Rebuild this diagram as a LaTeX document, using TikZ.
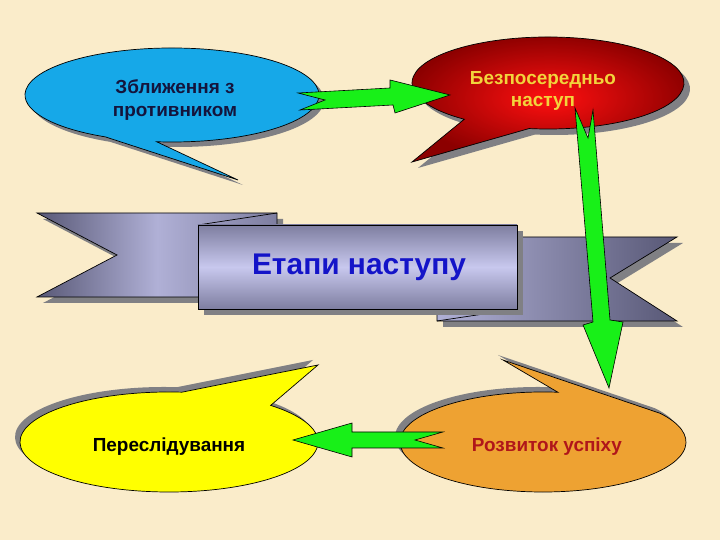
\documentclass[tikz,border=0pt]{standalone}
\usepackage{fontspec}
\setmainfont{Liberation Sans}
\definecolor{bgc}{RGB}{250,236,202}
\definecolor{shd}{RGB}{128,128,132}
\definecolor{bluef}{RGB}{22,168,232}
\definecolor{yelf}{RGB}{255,255,0}
\definecolor{oraf}{RGB}{238,162,50}
\definecolor{redin}{RGB}{255,16,16}
\definecolor{redout}{RGB}{140,0,0}
\definecolor{grn}{RGB}{24,240,24}
\definecolor{bdark}{RGB}{88,88,118}
\definecolor{blight}{RGB}{176,176,214}
\definecolor{bmid}{RGB}{126,126,160}
\definecolor{bpale}{RGB}{200,200,238}
\definecolor{navyt}{RGB}{20,20,60}
\definecolor{goldt}{RGB}{242,212,60}
\definecolor{redt}{RGB}{176,22,26}
\definecolor{bluet}{RGB}{20,20,200}
\tikzset{
  outl/.style={draw=black,line width=0.7bp},
  garrow/.style={fill=grn,draw=black,line width=0.6bp,line join=miter},
  lbl/.style={font=\fontsize{19}{23}\selectfont\bfseries,align=center,inner sep=0pt},
}
\begin{document}
\begin{tikzpicture}[x=1bp,y=1bp]
\useasboundingbox (0,0) rectangle (720,540);
\fill[bgc] (0,0) rectangle (720,540);

% ---------- banner ----------
% shadows
\fill[shd] (43,321) -- (283,321) -- (283,237) -- (43,237) -- (123,279) -- cycle;
\fill[shd] (443,297) -- (683,297) -- (616,256) -- (683,213) -- (443,213) -- cycle;
% left piece
\shade[left color=bdark,right color=bmid,middle color=blight] (37,327) -- (277,327) -- (277,243) -- (37,243) -- (117,285) -- cycle;
\draw[outl] (198,243) -- (37,243) -- (117,285) -- (37,327) -- (277,327) -- (277,315);
\draw[outl] (198,315) -- (277,327);
% right piece
\shade[left color=blight,right color=bdark] (437,303) -- (677,303) -- (610,262) -- (677,219) -- (437,219) -- cycle;
\draw[outl] (517,303) -- (677,303) -- (610,262) -- (677,219) -- (437,219) -- (437,231);
\draw[outl] (437,219) -- (517,231);
% centre
\fill[shd] (204,309) rectangle (523,225);
\shade[top color=bmid,bottom color=bmid,middle color=bpale] (198,315) rectangle (517,231);
\draw[outl] (198,315) rectangle (517,231);
\node[font=\fontsize{30}{34}\selectfont\bfseries,text=bluet] (title) at (359,273) {Етапи наступу};

% ---------- blue callout ----------
\fill[shd] ({177+147*cos(264)},{440+47*sin(264)}) arc[start angle=264,end angle=603,x radius=147bp,y radius=47bp] -- (243,355) -- cycle;
\fill[bluef] ({172+147*cos(264)},{445+47*sin(264)}) arc[start angle=264,end angle=603,x radius=147bp,y radius=47bp] -- (238,360) -- cycle;
\draw[outl] ({172+147*cos(264)},{445+47*sin(264)}) arc[start angle=264,end angle=603,x radius=147bp,y radius=47bp] -- (238,360) -- cycle;

% ---------- red callout ----------
\fill[shd] ({554+136*cos(262)},{451+46*sin(262)}) arc[start angle=262,end angle=592,x radius=136bp,y radius=46bp] -- (418,372) -- cycle;
\shade[inner color=redin,outer color=redout] ({548+136*cos(262)},{457+46*sin(262)}) arc[start angle=262,end angle=592,x radius=136bp,y radius=46bp] -- (412,378) -- cycle;
\draw[outl] ({548+136*cos(262)},{457+46*sin(262)}) arc[start angle=262,end angle=592,x radius=136bp,y radius=46bp] -- (412,378) -- cycle;

% ---------- yellow callout ----------
\fill[shd] ({164+149*cos(85)},{103+50*sin(85)}) arc[start angle=85,end angle=407,x radius=149bp,y radius=50bp] -- (313,180) -- cycle;
\fill[yelf] ({169+149*cos(85)},{98+50*sin(85)}) arc[start angle=85,end angle=407,x radius=149bp,y radius=50bp] -- (318,175) -- cycle;
\draw[outl] ({169+149*cos(85)},{98+50*sin(85)}) arc[start angle=85,end angle=407,x radius=149bp,y radius=50bp] -- (318,175) -- cycle;

% ---------- orange callout ----------
\fill[shd] ({538+143*cos(84)},{103+50*sin(84)}) arc[start angle=84,end angle=395,x radius=143bp,y radius=50bp] -- (498,185) -- cycle;
\fill[oraf] ({543+143*cos(84)},{98+50*sin(84)}) arc[start angle=84,end angle=395,x radius=143bp,y radius=50bp] -- (503,180) -- cycle;
\draw[outl] ({543+143*cos(84)},{98+50*sin(84)}) arc[start angle=84,end angle=395,x radius=143bp,y radius=50bp] -- (503,180) -- cycle;

% ---------- green block arrows ----------
\draw[garrow] (298,447) -- (390,452) -- (390,460) -- (450,445) -- (395,427) -- (393,435) -- (300,430) -- (325,440) -- cycle;
\draw[garrow] (575,432) -- (588,402) -- (593,430) -- (610,220) -- (623,218) -- (609,152) -- (583,215) -- (593,218) -- cycle;
\draw[garrow] (293,100) -- (352,117) -- (352,108) -- (443,108) -- (415,100) -- (443,92) -- (352,92) -- (352,83) -- cycle;

% ---------- texts ----------
\node[lbl,text=navyt] (t1) at (175,440) {Зближення з\\противником};
\node[lbl,text=goldt] (t2) at (543,449) {Безпосередньо\\наступ};
\node[lbl,text=black] (t3) at (169,93) {Переслідування};
\node[lbl,text=redt] (t4) at (547,93) {Розвиток успіху};
\end{tikzpicture}
\end{document}
